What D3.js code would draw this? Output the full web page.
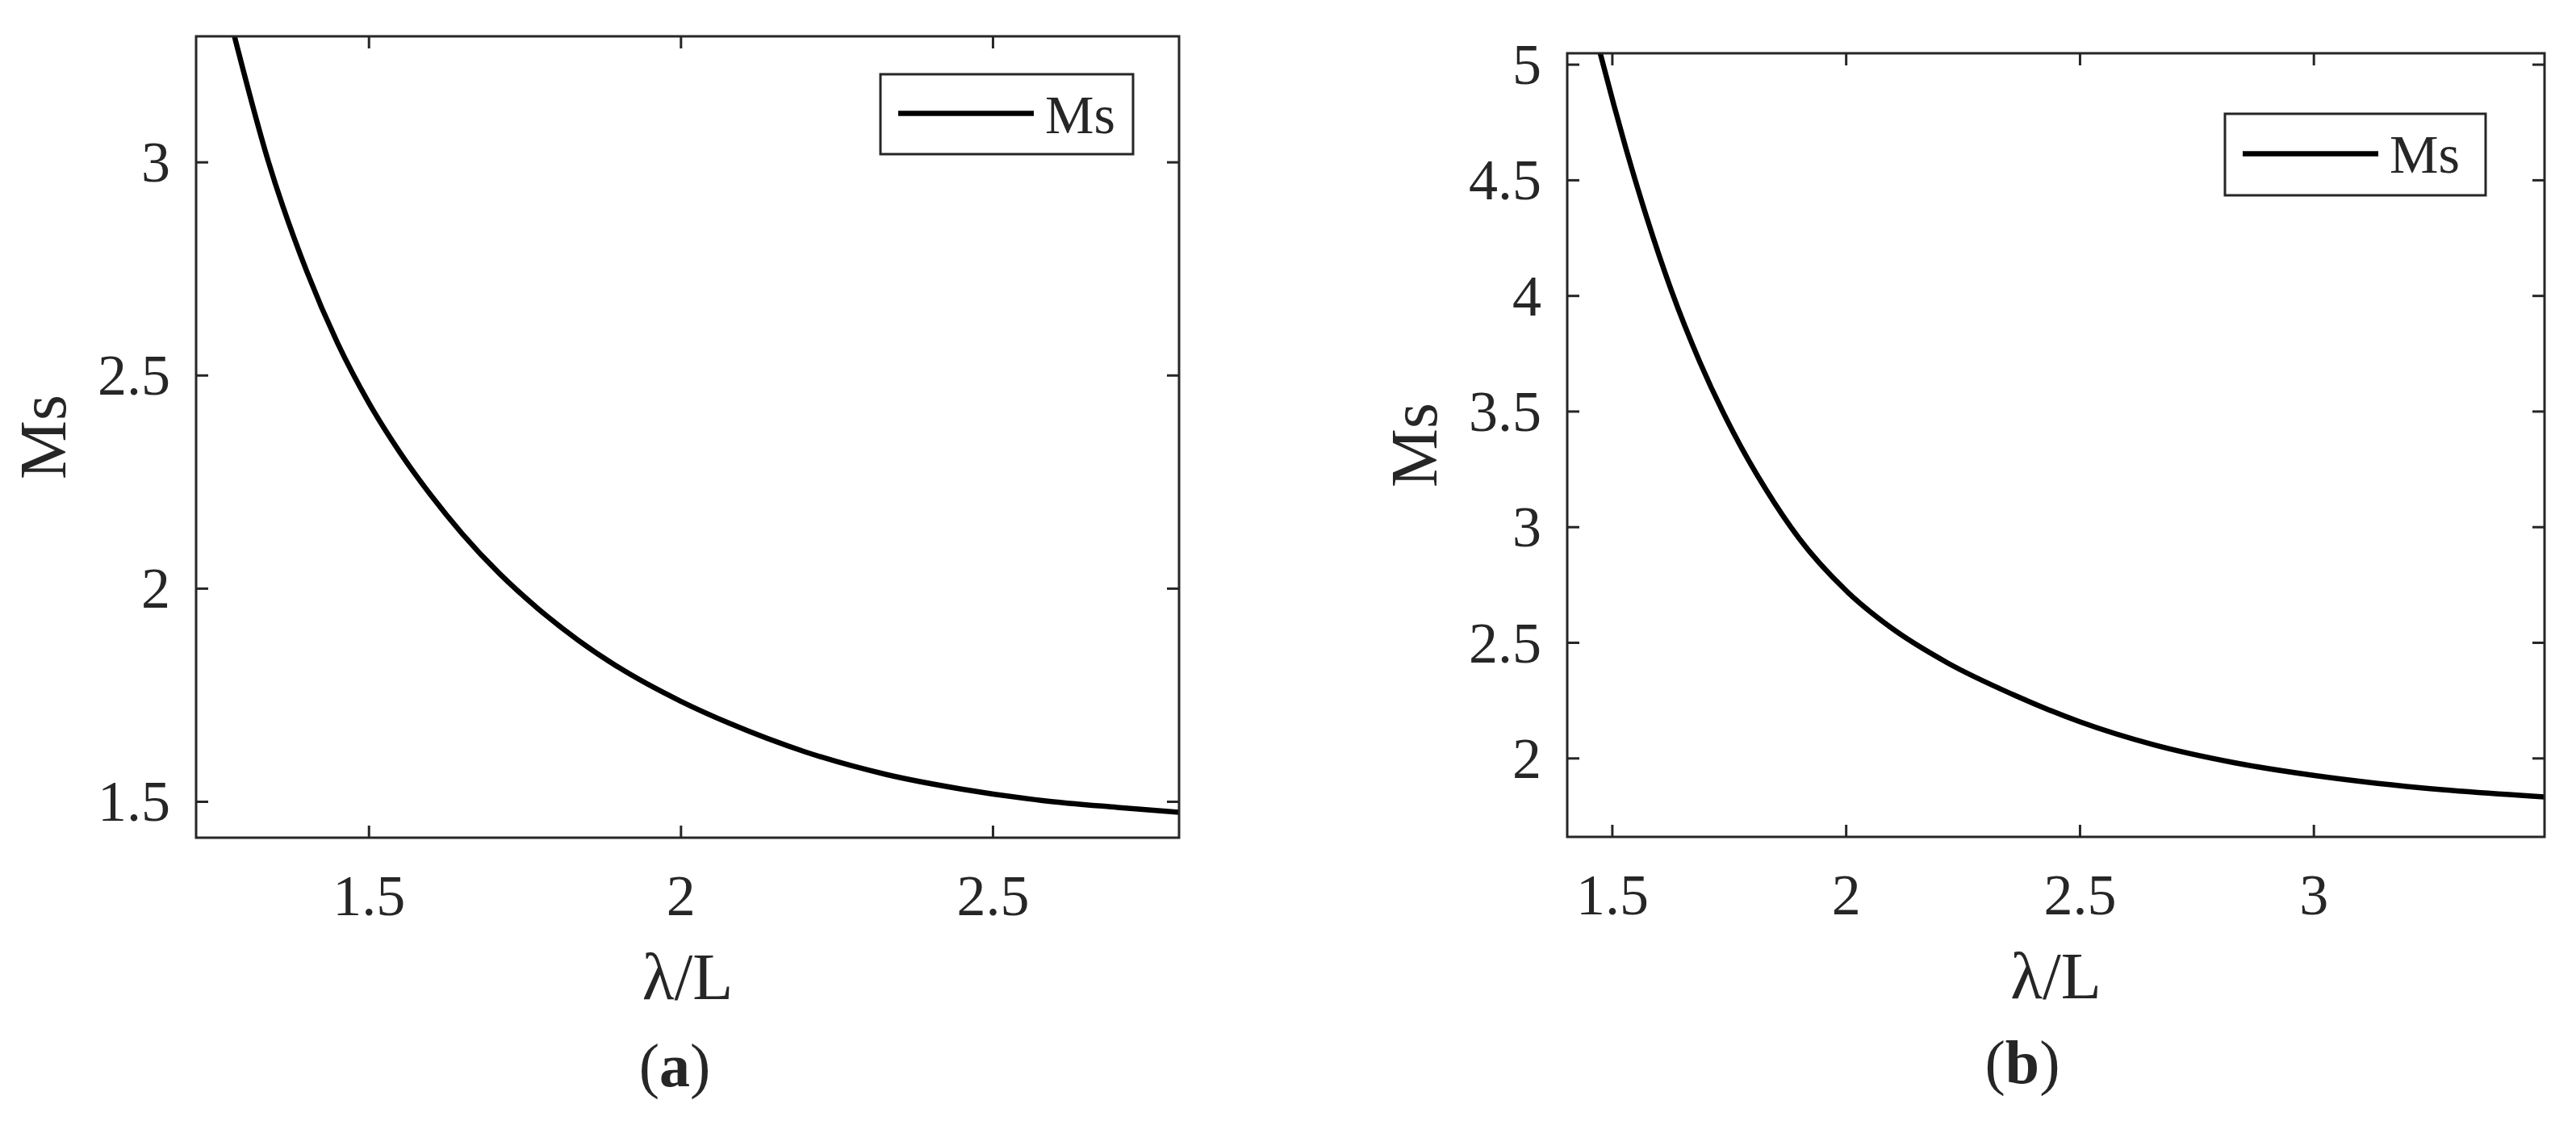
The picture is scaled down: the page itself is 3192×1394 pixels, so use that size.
<!DOCTYPE html>
<html>
<head>
<meta charset="utf-8">
<script src="https://cdn.jsdelivr.net/npm/d3@7/dist/d3.min.js"></script>
<style>
  html, body { margin: 0; padding: 0; background: #fff; }
  svg { display: block; }
  text { font-family: "Liberation Serif", "Times New Roman", serif; fill: #262626; }
</style>
</head>
<body>
<svg id="chart" width="3192" height="1394"></svg>
<script>
// ---- Data ----
const seriesName = "Ms";
const xLabel = "λ/L";
const yLabel = "Ms";

// Panel (a)
const xA = [1.285, 1.339, 1.401, 1.450, 1.500, 1.550, 1.600, 1.650, 1.710, 1.770, 1.835, 1.900, 2.000, 2.080, 2.200, 2.330, 2.450, 2.580, 2.700, 2.799];
const yA = [3.295, 3.003, 2.743, 2.576, 2.436, 2.319, 2.218, 2.128, 2.034, 1.954, 1.879, 1.815, 1.735, 1.682, 1.616, 1.563, 1.529, 1.502, 1.486, 1.4746];
const xTicksA = [1.5, 2, 2.5];
const yTicksA = [1.5, 2, 2.5, 3];
const xDomainA = [1.2236, 2.7988];
const yDomainA = [1.4148, 3.2947];

// Panel (b)
const xB = [1.475, 1.504, 1.530, 1.574, 1.627, 1.688, 1.759, 1.829, 1.900, 2.000, 2.093, 2.217, 2.357, 2.500, 2.657, 2.830, 3.000, 3.231, 3.494];
const yB = [5.047, 4.825, 4.635, 4.340, 4.022, 3.712, 3.410, 3.162, 2.950, 2.725, 2.569, 2.412, 2.275, 2.157, 2.058, 1.980, 1.925, 1.871, 1.832];
const xTicksB = [1.5, 2, 2.5, 3];
const yTicksB = [2, 2.5, 3, 3.5, 4, 4.5, 5];
const xDomainB = [1.4044, 3.494];
const yDomainB = [1.659, 5.0475];

const captions = ["(a)", "(b)"];

// ---- Layout ----
const panels = [
  { xs: xA, ys: yA, xTicks: xTicksA, yTicks: yTicksA, xDomain: xDomainA, yDomain: yDomainA,
    left: 243, right: 1461, top: 45, bottom: 1038,
    legend: { x: 1091, y: 92, w: 313, h: 99 }, captionX: 836, captionY: 1346, caption: captions[0] },
  { xs: xB, ys: yB, xTicks: xTicksB, yTicks: yTicksB, xDomain: xDomainB, yDomain: yDomainB,
    left: 1942, right: 3153, top: 66, bottom: 1037,
    legend: { x: 2757, y: 141, w: 323, h: 101 }, captionX: 2506, captionY: 1342, caption: captions[1] }
];

const axisColor = "#262626";
const tickFont = 72, labelFont = 82, legendFont = 68, captionFont = 76;
const tickLen = 15;

const svg = d3.select("#chart");
svg.append("rect").attr("width", 3192).attr("height", 1394).attr("fill", "#fff");

panels.forEach(p => {
  const x = d3.scaleLinear().domain(p.xDomain).range([p.left, p.right]);
  const y = d3.scaleLinear().domain(p.yDomain).range([p.bottom, p.top]);
  const g = svg.append("g");
  const W = p.right - p.left, H = p.bottom - p.top;

  const clipId = "clip" + p.left;
  g.append("clipPath").attr("id", clipId).append("rect")
    .attr("x", p.left).attr("y", p.top).attr("width", W).attr("height", H);

  const pts = p.xs.map((v, i) => [v, p.ys[i]]);
  g.append("path")
    .datum(pts)
    .attr("clip-path", `url(#${clipId})`)
    .attr("fill", "none")
    .attr("stroke", "#000")
    .attr("stroke-width", 6.5)
    .attr("stroke-linejoin", "round")
    .attr("d", d3.line().x(d => x(d[0])).y(d => y(d[1])).curve(d3.curveMonotoneX));

  const fmt = d3.format("");
  const bottomAxis = d3.axisBottom(x).tickValues(p.xTicks).tickSize(-tickLen).tickPadding(0).tickFormat(fmt);
  const topAxis = d3.axisTop(x).tickValues(p.xTicks).tickSize(-tickLen).tickFormat("");
  const leftAxis = d3.axisLeft(y).tickValues(p.yTicks).tickSize(-tickLen).tickFormat(fmt);
  const rightAxis = d3.axisRight(y).tickValues(p.yTicks).tickSize(-tickLen).tickFormat("");

  const gb = g.append("g").attr("transform", `translate(0,${p.bottom})`).call(bottomAxis);
  const gt = g.append("g").attr("transform", `translate(0,${p.top})`).call(topAxis);
  const gl = g.append("g").attr("transform", `translate(${p.left},0)`).call(leftAxis);
  const gr = g.append("g").attr("transform", `translate(${p.right},0)`).call(rightAxis);

  [gb, gt, gl, gr].forEach(a => {
    a.select(".domain").remove();
    a.selectAll(".tick line").attr("stroke", axisColor).attr("stroke-width", 3);
  });
  gb.selectAll(".tick text")
    .attr("font-size", tickFont).attr("fill", axisColor)
    .attr("font-family", "Liberation Serif")
    .attr("y", 96).attr("dy", 0);
  gl.selectAll(".tick text")
    .attr("font-size", tickFont).attr("fill", axisColor)
    .attr("font-family", "Liberation Serif")
    .attr("x", -32).attr("dy", 0).attr("y", 24);

  g.append("rect")
    .attr("x", p.left).attr("y", p.top).attr("width", W).attr("height", H)
    .attr("fill", "none").attr("stroke", axisColor).attr("stroke-width", 3);

  g.append("text")
    .attr("x", (p.left + p.right) / 2).attr("y", p.bottom + 200)
    .attr("text-anchor", "middle").attr("font-size", labelFont)
    .text(xLabel);
  g.append("text")
    .attr("transform", `translate(${p.left - 162},${(p.top + p.bottom) / 2}) rotate(-90)`)
    .attr("text-anchor", "middle").attr("font-size", labelFont)
    .text(yLabel);

  const L = p.legend;
  const lg = g.append("g");
  lg.append("rect").attr("x", L.x).attr("y", L.y).attr("width", L.w).attr("height", L.h)
    .attr("fill", "#fff").attr("stroke", axisColor).attr("stroke-width", 3);
  lg.append("line")
    .attr("x1", L.x + 22).attr("x2", L.x + 190)
    .attr("y1", L.y + L.h / 2 - 1).attr("y2", L.y + L.h / 2 - 1)
    .attr("stroke", "#000").attr("stroke-width", 6.5);
  lg.append("text")
    .attr("x", L.x + 204).attr("y", L.y + 73)
    .attr("font-size", legendFont).attr("fill", "#000")
    .text(seriesName);

  const cap = g.append("text")
    .attr("x", p.captionX).attr("y", p.captionY)
    .attr("text-anchor", "middle").attr("font-size", captionFont).attr("fill", "#000");
  cap.append("tspan").text("(");
  cap.append("tspan").attr("font-weight", "bold").text(p.caption.slice(1, -1));
  cap.append("tspan").text(")");
});
</script>
</body>
</html>
